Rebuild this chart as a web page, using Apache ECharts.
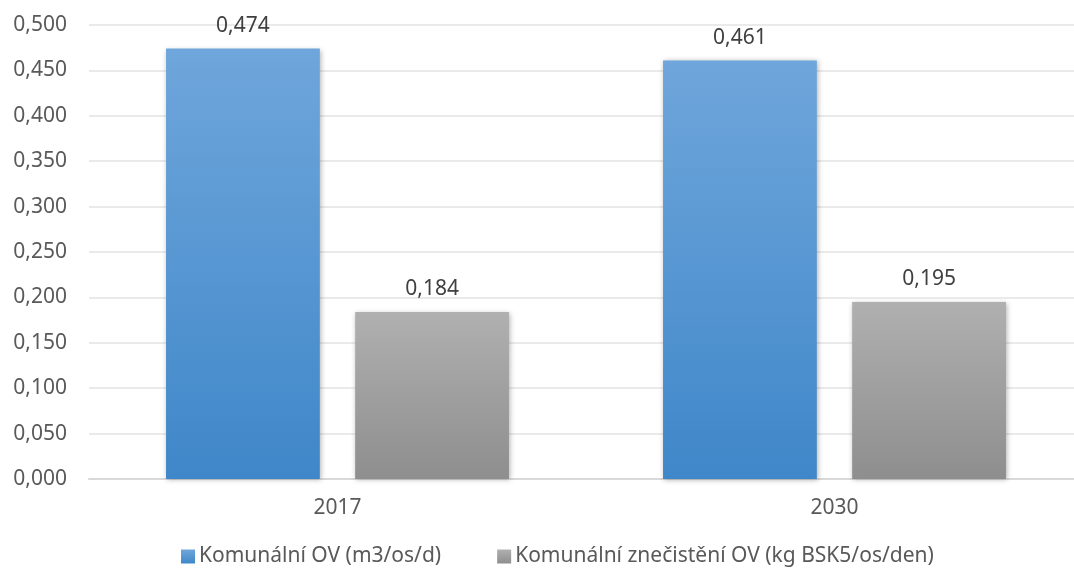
<!DOCTYPE html>
<html>
<head>
<meta charset="utf-8">
<script src="https://cdn.jsdelivr.net/npm/echarts@6/dist/echarts.min.js"></script>
<style>
  html, body { margin: 0; padding: 0; background: #fff; }
  #chart { width: 1074px; height: 573px; }
</style>
</head>
<body>
<div id="chart"></div>
<script>
// Category labels and series values
const years = ['2017', '2030'];
const seriesNames = ['Komunální OV (m3/os/d)', 'Komunální znečistění OV (kg BSK5/os/den)'];
const wasteWater = [0.474, 0.461];
const pollution = [0.184, 0.195];

const fmt = v => Number(v).toFixed(3).replace('.', ',');
const font = '"Noto Sans", "Open Sans", sans-serif';
const fs = 21;

const blueGrad = new echarts.graphic.LinearGradient(0, 0, 0, 1, [
  { offset: 0, color: '#6fa6db' },
  { offset: 1, color: '#3f87c9' }
]);
const grayGrad = new echarts.graphic.LinearGradient(0, 0, 0, 1, [
  { offset: 0, color: '#b0b0b0' },
  { offset: 1, color: '#8e8e8e' }
]);

const barShadow = { shadowBlur: 5, shadowColor: 'rgba(0,0,0,0.3)', shadowOffsetX: 1, shadowOffsetY: 1 };
const valueLabel = { show: true, position: 'top', distance: 12, fontSize: fs, color: '#404040', formatter: p => fmt(p.value) };

const chart = echarts.init(document.getElementById('chart'), null, { renderer: 'canvas' });
chart.setOption({
  animation: false,
  textStyle: { fontFamily: font },
  grid: { left: 89, top: 25, width: 994, height: 454, containLabel: false, outerBoundsMode: 'none' },
  legend: {
    top: 546,
    left: 181,
    itemWidth: 14,
    itemHeight: 14,
    itemGap: 56,
    icon: 'rect',
    padding: 0,
    textStyle: { fontSize: fs, color: '#595959', fontFamily: font, padding: [0, 0, 0, -1] },
    data: seriesNames
  },
  xAxis: {
    type: 'category',
    data: years,
    axisLine: { lineStyle: { color: '#d9d9d9', width: 2 } },
    axisTick: { show: false },
    axisLabel: { fontSize: fs, color: '#595959', margin: 19 }
  },
  yAxis: {
    type: 'value',
    min: 0,
    max: 0.5,
    interval: 0.05,
    axisLine: { show: false },
    axisTick: { show: false },
    splitLine: { lineStyle: { color: '#e3e3e3', width: 1.5 } },
    axisLabel: { fontSize: fs, color: '#595959', margin: 22, formatter: fmt }
  },
  series: [
    {
      name: seriesNames[0],
      type: 'bar',
      data: wasteWater,
      barGap: '23%',
      barCategoryGap: '31%',
      itemStyle: Object.assign({ color: blueGrad }, barShadow),
      label: valueLabel
    },
    {
      name: seriesNames[1],
      type: 'bar',
      data: pollution,
      itemStyle: Object.assign({ color: grayGrad }, barShadow),
      label: valueLabel
    }
  ]
});
</script>
</body>
</html>
